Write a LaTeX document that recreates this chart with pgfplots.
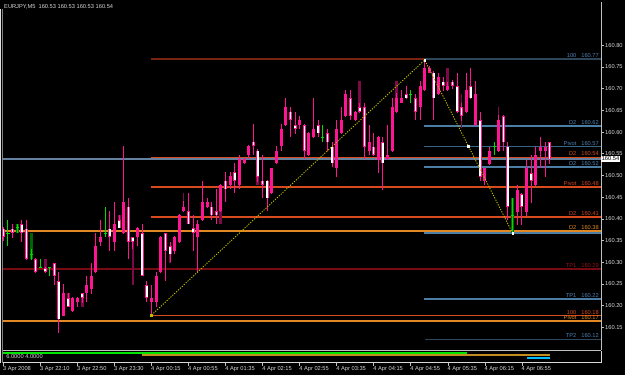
\documentclass[border=0pt]{standalone}
\usepackage{pgfplots}
\pgfplotsset{compat=1.18}
\usepackage{pgfplotstable}
\usepackage{fontspec}
\setmainfont{Liberation Sans}
\newcommand{\fs}{\fontsize{5.7}{6}\selectfont}
\definecolor{cpink}{RGB}{255,20,147}
\definecolor{cdark}{RGB}{125,10,70}
\definecolor{cdgreen}{RGB}{0,100,0}
\definecolor{cgreen}{RGB}{0,220,0}
\definecolor{cbrown}{RGB}{120,35,15}
\definecolor{cslate}{RGB}{45,70,90}
\definecolor{csteel}{RGB}{75,125,165}
\definecolor{csteeld}{RGB}{55,100,135}
\definecolor{cbid}{RGB}{100,130,160}
\definecolor{cblue}{RGB}{80,130,180}
\definecolor{cored}{RGB}{215,75,30}
\definecolor{corange}{RGB}{225,135,35}
\definecolor{cdred}{RGB}{120,10,20}
\definecolor{cdredt}{RGB}{150,20,25}
\definecolor{czig}{RGB}{190,190,0}
\definecolor{caxis}{RGB}{192,192,192}
\definecolor{ctext}{RGB}{215,215,215}
\definecolor{cind}{RGB}{0,230,0}
\definecolor{cindo}{RGB}{195,140,30}
\definecolor{ccyan}{RGB}{0,190,255}
\pgfplotsset{
  hline/.style={draw=none, mark=none, error bars/.cd, x dir=plus, x explicit, error mark=none,
    error bar style={line width=1.4pt, draw=#1}},
  vbar/.style 2 args={draw=none, mark=none, error bars/.cd, y dir=plus, y explicit, error mark=none,
    error bar style={line width=#1, draw=#2}},
}
\tikzset{lbl/.style={anchor=south east, inner sep=0pt, font=\fs, xshift=-2pt, yshift=1.2pt, text=#1}}

% bearish candles (white): open above close
\pgfplotstableread{
i o h l c
0 160.377 160.381 160.349 160.358
2 160.377 160.387 160.356 160.368
4 160.387 160.397 160.347 160.368
5 160.377 160.397 160.305 160.307
7 160.307 160.310 160.276 160.277
9 160.287 160.289 160.276 160.277
11 160.297 160.299 160.247 160.268
12 160.257 160.278 160.137 160.168
14 160.217 160.229 160.197 160.197
17 160.228 160.229 160.207 160.217
23 160.377 160.418 160.326 160.359
25 160.397 160.409 160.378 160.378
27 160.428 160.449 160.307 160.347
28 160.357 160.358 160.330 160.347
30 160.367 160.387 160.267 160.268
31 160.247 160.257 160.208 160.217
35 160.367 160.368 160.257 160.326
36 160.337 160.347 160.300 160.318
40 160.418 160.459 160.387 160.387
41 160.378 160.408 160.326 160.368
45 160.428 160.439 160.397 160.408
46 160.418 160.468 160.387 160.408
48 160.488 160.508 160.439 160.468
50 160.508 160.528 160.459 160.488
54 160.578 160.618 160.547 160.568
55 160.557 160.560 160.485 160.497
56 160.488 160.547 160.447 160.478
57 160.488 160.490 160.418 160.447
62 160.647 160.657 160.588 160.628
63 160.616 160.647 160.596 160.607
65 160.616 160.618 160.537 160.556
68 160.616 160.628 160.588 160.597
70 160.597 160.607 160.556 160.576
71 160.566 160.576 160.520 160.528
75 160.678 160.697 160.628 160.637
77 160.657 160.668 160.645 160.647
78 160.657 160.668 160.537 160.566
80 160.566 160.597 160.545 160.547
82 160.576 160.588 160.466 160.528
87 160.687 160.707 160.676 160.678
89 160.678 160.687 160.628 160.647
93 160.737 160.740 160.628 160.678
95 160.716 160.726 160.695 160.706
97 160.716 160.720 160.700 160.706
98 160.706 160.737 160.645 160.647
99 160.657 160.668 160.625 160.637
101 160.706 160.747 160.676 160.678
103 160.628 160.647 160.486 160.497
108 160.637 160.640 160.556 160.576
109 160.566 160.576 160.397 160.428
112 160.457 160.460 160.386 160.428
114 160.506 160.547 160.437 160.488
118 160.576 160.578 160.526 160.537
}\tblwhite

% bullish candles (pink): close above open
\pgfplotstableread{
i o h l c
13 160.177 160.249 160.175 160.228
15 160.188 160.219 160.186 160.217
16 160.208 160.219 160.197 160.217
18 160.228 160.268 160.208 160.247
19 160.238 160.299 160.227 160.268
20 160.277 160.367 160.276 160.337
21 160.347 160.397 160.337 160.359
24 160.347 160.439 160.326 160.387
26 160.367 160.568 160.365 160.439
29 160.357 160.380 160.337 160.378
32 160.208 160.247 160.178 160.217
33 160.208 160.277 160.197 160.268
34 160.277 160.360 160.275 160.359
37 160.326 160.360 160.318 160.359
38 160.347 160.410 160.345 160.408
39 160.418 160.440 160.416 160.428
42 160.357 160.397 160.276 160.387
43 160.397 160.488 160.395 160.439
44 160.428 160.449 160.426 160.439
47 160.418 160.480 160.416 160.478
49 160.478 160.508 160.468 160.499
51 160.478 160.547 160.468 160.537
52 160.528 160.540 160.526 160.537
53 160.547 160.570 160.537 160.568
58 160.459 160.518 160.457 160.516
59 160.528 160.568 160.526 160.557
60 160.568 160.618 160.557 160.607
61 160.616 160.678 160.614 160.657
64 160.616 160.637 160.607 160.628
66 160.547 160.600 160.545 160.597
67 160.588 160.678 160.586 160.607
72 160.516 160.628 160.497 160.607
73 160.597 160.657 160.595 160.628
74 160.637 160.697 160.635 160.687
76 160.628 160.649 160.626 160.647
79 160.556 160.616 160.547 160.576
81 160.536 160.590 160.506 160.588
83 160.537 160.616 160.535 160.547
84 160.556 160.678 160.554 160.657
85 160.647 160.690 160.645 160.678
86 160.668 160.697 160.666 160.678
90 160.657 160.718 160.628 160.706
91 160.697 160.766 160.695 160.747
92 160.737 160.752 160.735 160.747
94 160.687 160.737 160.685 160.726
96 160.697 160.716 160.695 160.706
100 160.647 160.737 160.645 160.697
102 160.616 160.718 160.614 160.687
104 160.486 160.518 160.478 160.516
105 160.526 160.566 160.524 160.556
107 160.556 160.640 160.554 160.628
111 160.416 160.478 160.386 160.466
113 160.416 160.536 160.407 160.516
115 160.478 160.566 160.476 160.547
116 160.556 160.588 160.516 160.566
117 160.556 160.576 160.497 160.566
}\tblpink

% doji bars (open = close)
\pgfplotstableread{
i o h l
1 160.367 160.397 160.337
3 160.379 160.387 160.367
6 160.318 160.330 160.305
8 160.288 160.307 160.288
10 160.287 160.289 160.267
22 160.367 160.428 160.359
69 160.588 160.616 160.576
88 160.687 160.697 160.668
106 160.566 160.576 160.547
110 160.407 160.447 160.367
}\tbldoji

% overlay (dark) segments
\pgfplotstableread{
i lo hi
9 160.287 160.307
14 160.217 160.228
17 160.197 160.217
25 160.397 160.409
47 160.387 160.418
55 160.478 160.497
77 160.657 160.718
85 160.678 160.718
96 160.706 160.748
}\tbldarkbody
\pgfplotstableread{
i lo hi
28 160.247 160.347
36 160.297 160.318
39 160.428 160.460
99 160.609 160.687
107 160.628 160.657
}\tbldarkwick
\pgfplotstableread{
i lo hi
3 160.367 160.387
6 160.307 160.367
110 160.367 160.447
}\tbldarkgreen

\begin{document}
\begin{tikzpicture}
\fill[black] (0,0) rectangle (625pt,375pt);
\draw[white!88!black, line width=0.7pt] (0.6pt,366pt) -- (0.6pt,12.3pt);
\draw[gray, line width=0.7pt] (2.4pt,366pt) -- (2.4pt,12.3pt);
\node[anchor=north west, inner sep=0pt, font=\fs, text=ctext] at (4pt,371pt) {EURJPY,M5\ \ 160.53 160.53 160.53 160.54};

\begin{axis}[
  at={(3pt,24.5pt)}, anchor=south west,
  scale only axis, width=598pt, height=348.5pt,
  xmin=-0.07, xmax=129.09, ymin=160.0964, ymax=160.8998,
  axis x line*=bottom, axis y line*=right,
  axis line style={-, caxis, line width=0.8pt},
  xtick=\empty,
  ytick={160.15,160.2,160.25,160.3,160.35,160.4,160.45,160.5,160.55,160.6,160.65,160.7,160.75,160.8},
  yticklabel pos=right,
  tick align=outside, major tick length=3pt,
  tick style={caxis, line width=0.6pt},
  yticklabel style={font=\fs, text=ctext, anchor=west, inner sep=0pt, xshift=1pt},
  yticklabel={\pgfmathprintnumber[fixed, fixed zerofill, precision=2, assume math mode=true]{\tick}},
  clip=false,
]
% levels: (start, price) +- (length, 0)
\addplot[hline=cbrown] coordinates {(31.9,160.768) +- (59.18,0)};
\addplot[hline=cslate] coordinates {(91.08,160.768) +- (38.01,0)};
\addplot[hline=csteel] coordinates {(90.87,160.614) +- (38.22,0)};
\addplot[hline=csteeld] coordinates {(90.87,160.566) +- (38.22,0)};
\addplot[hline=cored] coordinates {(31.9,160.542) +- (97.19,0)};
\addplot[hline=cbid] coordinates {(-0.07,160.538) +- (129.16,0)};
\addplot[hline=csteel] coordinates {(90.87,160.519) +- (38.22,0)};
\addplot[hline=cored] coordinates {(31.9,160.473) +- (97.19,0)};
\addplot[hline=cored] coordinates {(31.9,160.404) +- (97.19,0)};
\addplot[hline=corange] coordinates {(-0.07,160.372) +- (129.16,0)};
\addplot[hline=csteel] coordinates {(90.87,160.367) +- (38.22,0)};
\addplot[hline=cdred] coordinates {(-0.07,160.284) +- (129.16,0)};
\addplot[hline=csteel] coordinates {(90.87,160.215) +- (38.22,0)};
\addplot[hline=cored] coordinates {(31.9,160.177) +- (97.19,0)};
\addplot[hline=corange] coordinates {(-0.07,160.164) +- (129.16,0)};
\addplot[hline=cslate] coordinates {(91.08,160.122) +- (38.01,0)};

% dark overlay
\addplot[vbar={3pt}{cdark}] table[x=i, y=lo, y error expr=\thisrow{hi}-\thisrow{lo}] {\tbldarkbody};
\addplot[vbar={1.2pt}{cdark}] table[x=i, y=lo, y error expr=\thisrow{hi}-\thisrow{lo}] {\tbldarkwick};
\addplot[vbar={3pt}{cdgreen}] table[x=i, y=lo, y error expr=\thisrow{hi}-\thisrow{lo}] {\tbldarkgreen};
% wicks
\addplot[vbar={1pt}{cpink}] table[x=i, y=l, y error expr=\thisrow{h}-\thisrow{l}] {\tblpink};
\addplot[vbar={1pt}{cpink}] table[x=i, y=l, y error expr=\thisrow{h}-\thisrow{l}] {\tblwhite};
\addplot[vbar={1pt}{cgreen}] table[x=i, y=l, y error expr=\thisrow{h}-\thisrow{l}] {\tbldoji};
% bodies
\addplot[vbar={3pt}{cpink}] table[x=i, y=o, y error expr=\thisrow{c}-\thisrow{o}] {\tblpink};
\addplot[vbar={3pt}{cpink}] table[x=i, y=c, y error expr=\thisrow{o}-\thisrow{c}] {\tblwhite};
\addplot[vbar={1.5pt}{white}] table[x=i, y expr=\thisrow{c}+0.0016, y error expr={max(\thisrow{o}-\thisrow{c}-0.0032,0)}] {\tblwhite};
\addplot[only marks, mark=-, mark size=1.6pt, mark options={draw=cgreen, line width=1pt}] table[x=i, y=o] {\tbldoji};

% zigzag
\addplot[draw=czig, line width=0.9pt, dash pattern=on 1.2pt off 1.4pt] coordinates {(32,160.178) (91,160.766) (110,160.367)};
\addplot[only marks, mark=square*, mark size=0.9pt, mark options={fill=white, draw=white}] coordinates {(91,160.766) (100.43,160.568) (110,160.367)};
\addplot[only marks, mark=square*, mark size=0.8pt, mark options={fill=czig, draw=czig}] coordinates {(32,160.178)};

% level labels
\node[lbl=cblue] at (axis cs:129.09,160.768) {100\hspace{5pt}160.77};
\node[lbl=cblue] at (axis cs:129.09,160.614) {D2\hspace{5pt}160.62};
\node[lbl=cblue] at (axis cs:129.09,160.566) {Pivot\hspace{5pt}160.57};
\node[lbl=cored] at (axis cs:129.09,160.542) {D2\hspace{5pt}160.54};
\node[lbl=cblue] at (axis cs:129.09,160.519) {D2\hspace{5pt}160.52};
\node[lbl=cored] at (axis cs:129.09,160.473) {Pivot\hspace{5pt}160.48};
\node[lbl=cored] at (axis cs:129.09,160.404) {D2\hspace{5pt}160.41};
\node[lbl=corange] at (axis cs:129.09,160.372) {D2\hspace{5pt}160.38};
\node[lbl=cdredt] at (axis cs:129.09,160.284) {TP1\hspace{5pt}160.29};
\node[lbl=cblue] at (axis cs:129.09,160.215) {TP1\hspace{5pt}160.22};
\node[lbl=cored] at (axis cs:129.09,160.177) {100\hspace{5pt}160.18};
\node[lbl=corange] at (axis cs:129.09,160.164) {Pivot\hspace{5pt}160.17};
\node[lbl=cblue] at (axis cs:129.09,160.122) {TP2\hspace{5pt}160.12};
\node[fill=white, text=black, anchor=west, inner sep=0.6pt, font=\fs] at (axis cs:129.09,160.538) {160.54};
\end{axis}

\begin{axis}[
  at={(3pt,12.3pt)}, anchor=south west,
  scale only axis, width=598pt, height=12pt,
  xmin=-0.07, xmax=129.09, ymin=-3.4, ymax=8.6,
  axis x line*=bottom, axis y line*=right,
  axis line style={-, white!85!black, line width=0.8pt},
  ytick=\empty,
  xtick={0,8,16,24,32,40,48,56,64,72,80,88,96,104,112},
  xticklabels={3 Apr 2008, 3 Apr 22:10, 3 Apr 22:50, 3 Apr 23:30, 4 Apr 00:15, 4 Apr 00:55, 4 Apr 01:35, 4 Apr 02:15, 4 Apr 02:55, 4 Apr 03:35, 4 Apr 04:15, 4 Apr 04:55, 4 Apr 05:35, 4 Apr 06:15, 4 Apr 06:55},
  tick align=outside, major tick length=3pt,
  tick style={caxis, line width=0.6pt},
  xticklabel style={font=\fs, text=ctext, anchor=north west, inner sep=0pt, xshift=-0.5pt, yshift=-0.5pt},
  clip=false,
]
\addplot[draw=none, mark=none, error bars/.cd, x dir=plus, x explicit, error mark=none,
  error bar style={line width=1.6pt, draw=cind}] coordinates {(-0.07,6) +- (100.27,0)};
\addplot[draw=none, mark=none, error bars/.cd, x dir=plus, x explicit, error mark=none,
  error bar style={line width=1.6pt, draw=cindo}] coordinates {(29.96,4) +- (88.14,0)};
\addplot[draw=none, mark=none, error bars/.cd, x dir=plus, x explicit, error mark=none,
  error bar style={line width=1.2pt, draw=ccyan}] coordinates {(113.1,1.3) +- (5,0)};
\node[anchor=north west, inner sep=0pt, font=\fs, text=ctext] at (axis cs:0.6,5.3) {6.0000 4.0000};
\end{axis}
\end{tikzpicture}
\end{document}
